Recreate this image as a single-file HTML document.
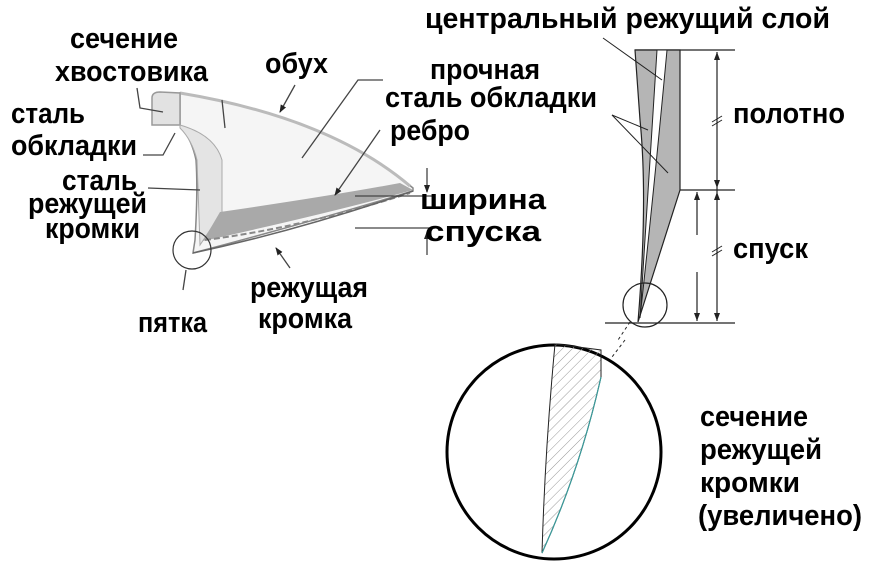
<!DOCTYPE html>
<html><head><meta charset="utf-8"><style>
html,body{margin:0;padding:0;background:#fff;width:881px;height:575px;overflow:hidden}
svg{display:block}
text{font-family:"Liberation Sans","DejaVu Sans",sans-serif;font-weight:bold;font-size:29px;fill:#000}
</style></head><body>
<svg width="881" height="575" viewBox="0 0 881 575" xmlns="http://www.w3.org/2000/svg">
<defs>
<pattern id="h" width="7" height="7" patternUnits="userSpaceOnUse" patternTransform="rotate(45)">
<line x1="0" y1="0" x2="0" y2="7" stroke="#999" stroke-width="1"/></pattern>
<marker id="a" markerWidth="8" markerHeight="8" refX="7" refY="4" orient="auto" markerUnits="userSpaceOnUse"><path d="M0,1 L8,4 L0,7z" fill="#222"/></marker>
</defs>
<!-- left knife -->
<path d="M180,93 Q330,118 413,188 L413,191 Q300,225 193,253 L195,240 Q198,190 196,160 Q192,140 180,125 Z" fill="#f5f5f5" stroke="#888" stroke-width="1.5"/>
<path d="M180,93 Q330,118 410,186" fill="none" stroke="#bbb" stroke-width="3"/>
<path d="M152,98 Q152,92 160,92 L180,93 L180,125 L152,125 Z" fill="#e2e2e2" stroke="#999" stroke-width="1.5"/>
<path d="M180,125 Q215,135 222,160 L222,212 L200,245 L197,160 Q192,140 180,128Z" fill="#e4e4e4" stroke="#aaa" stroke-width="1"/>
<path d="M220,212 Q330,196 400,183 L413,190 Q330,213 203,241 Z" fill="#a9a9a9"/>
<path d="M205,240 Q300,228 410,193" fill="none" stroke="#888" stroke-width="2" stroke-dasharray="6 3"/>
<path d="M193,253 Q300,230 413,191" fill="none" stroke="#666" stroke-width="1.5"/>
<circle cx="192" cy="250" r="19" fill="none" stroke="#333" stroke-width="1.2"/>
<!-- left leaders -->
<g stroke="#444" stroke-width="1.3" fill="none">
<path d="M137,88 L140,108 L163,112"/>
<path d="M143,155 L163,155 L175,133"/>
<path d="M148,188 L200,190"/>
<line x1="183" y1="290" x2="186" y2="270"/>
<line x1="225" y1="128" x2="222" y2="100"/>
<line x1="295" y1="85" x2="280" y2="112" marker-end="url(#a)"/>
<path d="M383,80 L358,80 L302,158"/>
<line x1="380" y1="130" x2="335" y2="195" marker-end="url(#a)"/>
<line x1="355" y1="196" x2="435" y2="196"/>
<line x1="355" y1="228" x2="435" y2="228"/>
<line x1="427" y1="168" x2="427" y2="192" marker-end="url(#a)"/>
<line x1="427" y1="255" x2="427" y2="232" marker-end="url(#a)"/>
<line x1="290" y1="268" x2="276" y2="248" marker-end="url(#a)"/>
</g>
<!-- right cross-section -->
<g stroke="#222" stroke-width="1.2">
<line x1="635" y1="50" x2="735" y2="50"/>
<line x1="680" y1="190" x2="735" y2="190"/>
<line x1="605" y1="323" x2="735" y2="323"/>
<path d="M635,50 L680,50 L680,190 L638,322 Q648,200 640,120 Z" fill="#b5b5b5"/>
<path d="M657,50 L667,50 Q655,180 640,318 Q648,200 657,50Z" fill="#fff" stroke-width="1"/>
<line x1="717" y1="52" x2="717" y2="321"/>
<line x1="697" y1="192" x2="697" y2="235"/>
<line x1="697" y1="272" x2="697" y2="321"/>
<circle cx="645" cy="305" r="22" fill="none"/>
</g>
<g fill="#222">
<path d="M717,52 l-3,8 h6z"/><path d="M717,188 l-3,-8 h6z"/><path d="M717,192 l-3,8 h6z"/><path d="M717,321 l-3,-8 h6z"/>
<path d="M697,192 l-3,8 h6z"/><path d="M697,321 l-3,-8 h6z"/>
</g>
<g stroke="#222" stroke-width="1">
<line x1="712" y1="122" x2="722" y2="116"/><line x1="712" y1="126" x2="722" y2="120"/>
<line x1="712" y1="252" x2="722" y2="246"/><line x1="712" y1="256" x2="722" y2="250"/>
<line x1="603" y1="38" x2="662" y2="80"/>
<line x1="612" y1="115" x2="648" y2="130"/>
<line x1="612" y1="115" x2="668" y2="173"/>
<line x1="630" y1="322" x2="618" y2="340" stroke-dasharray="3 3"/>
<line x1="625" y1="340" x2="612" y2="357" stroke-dasharray="3 3"/>
</g>
<!-- magnified -->
<circle cx="554" cy="452" r="107" fill="none" stroke="#000" stroke-width="3"/>
<path d="M555,344 L601,350 L601,377 Q580,470 542,553 Q545,450 555,344Z" fill="url(#h)" stroke="#222" stroke-width="1"/>
<path d="M601,377 Q580,470 542,553" fill="none" stroke="#3a9a9a" stroke-width="1.2"/>
<!-- labels -->
<text x="70" y="48" textLength="108" lengthAdjust="spacingAndGlyphs">сечение</text>
<text x="55" y="81" textLength="153" lengthAdjust="spacingAndGlyphs">хвостовика</text>
<text x="11" y="123" textLength="74" lengthAdjust="spacingAndGlyphs">сталь</text>
<text x="11" y="155" textLength="126" lengthAdjust="spacingAndGlyphs">обкладки</text>
<text x="62" y="190" textLength="75" lengthAdjust="spacingAndGlyphs">сталь</text>
<text x="28" y="213" textLength="119" lengthAdjust="spacingAndGlyphs">режущей</text>
<text x="45" y="238" textLength="95" lengthAdjust="spacingAndGlyphs">кромки</text>
<text x="265" y="73" textLength="63" lengthAdjust="spacingAndGlyphs">обух</text>
<text x="430" y="79" textLength="110" lengthAdjust="spacingAndGlyphs">прочная</text>
<text x="385" y="107" textLength="212" lengthAdjust="spacingAndGlyphs">сталь обкладки</text>
<text x="390" y="140" textLength="80" lengthAdjust="spacingAndGlyphs">ребро</text>
<text x="420" y="209" textLength="126" lengthAdjust="spacingAndGlyphs">ширина</text>
<text x="425" y="241" textLength="116" lengthAdjust="spacingAndGlyphs">спуска</text>
<text x="250" y="297" textLength="118" lengthAdjust="spacingAndGlyphs">режущая</text>
<text x="258" y="328" textLength="94" lengthAdjust="spacingAndGlyphs">кромка</text>
<text x="138" y="332" textLength="69" lengthAdjust="spacingAndGlyphs">пятка</text>
<text x="425" y="28" textLength="405" lengthAdjust="spacingAndGlyphs">центральный режущий слой</text>
<text x="733" y="123" textLength="112" lengthAdjust="spacingAndGlyphs">полотно</text>
<text x="733" y="258" textLength="75" lengthAdjust="spacingAndGlyphs">спуск</text>
<text x="700" y="426" textLength="108" lengthAdjust="spacingAndGlyphs">сечение</text>
<text x="700" y="459" textLength="122" lengthAdjust="spacingAndGlyphs">режущей</text>
<text x="700" y="492" textLength="100" lengthAdjust="spacingAndGlyphs">кромки</text>
<text x="698" y="525" textLength="164" lengthAdjust="spacingAndGlyphs">(увеличено)</text>
</svg>
</body></html>
